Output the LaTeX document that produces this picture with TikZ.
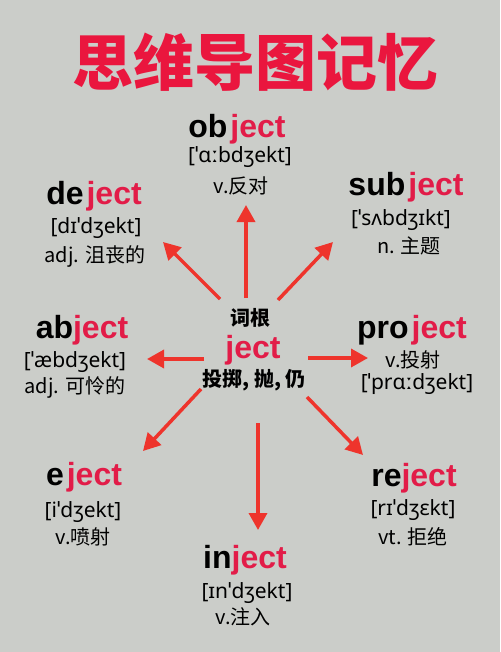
\documentclass[tikz,border=0pt]{standalone}
\usepackage{fontspec}
\setmainfont{Noto Sans}
\newfontfamily\cjk{Noto Sans CJK SC}
\newfontfamily\headfont{Liberation Sans}
\usepackage{xcolor}
\usetikzlibrary{arrows.meta}

\definecolor{paper}{RGB}{203,205,201}
\definecolor{titlered}{RGB}{234,22,62}
\definecolor{jred}{RGB}{226,28,72}
\definecolor{arrred}{RGB}{238,52,44}

\newcommand{\gap}{\kern3pt}

\tikzset{
  every node/.style={inner sep=0pt},
  word/.style={font=\headfont\fontsize{32}{35}\selectfont\bfseries},
  phon/.style={font=\fontsize{21}{23}\selectfont},
  mean/.style={font=\cjk\fontsize{20}{22}\selectfont},
  arr/.style={draw=arrred, line width=3.5pt, -{Triangle[length=17pt,width=18pt]}},
}

\begin{document}
\begin{tikzpicture}[x=1pt, y=-1pt]
        \fill [paper] (0,0) rectangle (500,652);
        \useasboundingbox (0,0) rectangle (500,652);

        % Title
        \node (title) [font=\cjk\fontsize{61}{64}\selectfont\bfseries, text=titlered] at (255,62) {思维导图记忆};

        % Root
        \node (rootlbl) [font=\cjk\fontsize{20}{22}\selectfont\bfseries] at (250,318) {词根};
        \node (root) [word, text=jred] at (253,350) {ject};
        \node (rootmn) [font=\cjk\fontsize{20}{22}\selectfont\bfseries] at (254,380) {投掷, 抛, 仍};

        % object
        \node (ob) [word] at (237,129) {ob\gap\textcolor{jred}{ject}};
        \node (ob-ph) [phon] at (240,157) {[ˈɑːbdʒekt]};
        \node (ob-mn) [mean] at (241,186) {v.反对};

        % deject
        \node (de) [word] at (94,196) {de\gap\textcolor{jred}{ject}};
        \node (de-ph) [phon] at (96,228) {[dɪˈdʒekt]};
        \node (de-mn) [mean] at (95,256) {adj. 沮丧的};

        % subject
        \node (sub) [word] at (406,187) {sub\gap\textcolor{jred}{ject}};
        \node (sub-ph) [phon] at (401,220) {[ˈsʌbdʒɪkt]};
        \node (sub-mn) [mean] at (409,246) {n. 主题};

        % abject
        \node (ab) [word] at (82,330) {ab\textcolor{jred}{ject}};
        \node (ab-ph) [phon] at (75,362) {[ˈæbdʒekt]};
        \node (ab-mn) [mean] at (75,387) {adj. 可怜的};

        % project
        \node (pro) [word] at (412,330) {pro\gap\textcolor{jred}{ject}};
        \node (pro-mn) [mean] at (413,360) {v.投射};
        \node (pro-ph) [phon] at (417,384) {[ˈprɑːdʒekt]};

        % eject
        \node (e) [word] at (84,477) {e\gap\textcolor{jred}{ject}};
        \node (e-ph) [phon] at (83,512) {[iˈdʒekt]};
        \node (e-mn) [mean] at (83,537) {v.喷射};

        % reject
        \node (re) [word] at (414,478) {re\textcolor{jred}{ject}};
        \node (re-ph) [phon] at (413,510) {[rɪˈdʒɛkt]};
        \node (re-mn) [mean] at (413,537) {vt. 拒绝};

        % inject
        \node (in) [word] at (245,560) {in\textcolor{jred}{ject}};
        \node (in-ph) [phon] at (247,593) {[ɪnˈdʒekt]};
        \node (in-mn) [mean] at (243,617) {v.注入};

        % Arrow ends
        \coordinate (ob-s) at (246,298);  \coordinate (ob-t) at (246,205);
        \coordinate (de-s) at (220,299);  \coordinate (de-t) at (163,242);
        \coordinate (sub-s) at (278,300); \coordinate (sub-t) at (333,242);
        \coordinate (ab-s) at (204,359);  \coordinate (ab-t) at (147,359);
        \coordinate (pro-s) at (308,358); \coordinate (pro-t) at (368,358);
        \coordinate (e-s) at (201,389);   \coordinate (e-t) at (143,451);
        \coordinate (re-s) at (307,397);  \coordinate (re-t) at (363,455);
        \coordinate (in-s) at (258,423);  \coordinate (in-t) at (258,530);

        % Arrows
        \draw [arr] (ob-s) -- (ob-t);
        \draw [arr] (de-s) -- (de-t);
        \draw [arr] (sub-s) -- (sub-t);
        \draw [arr] (ab-s) -- (ab-t);
        \draw [arr] (pro-s) -- (pro-t);
        \draw [arr] (e-s) -- (e-t);
        \draw [arr] (re-s) -- (re-t);
        \draw [arr] (in-s) -- (in-t);
    \end{tikzpicture}
\end{document}
